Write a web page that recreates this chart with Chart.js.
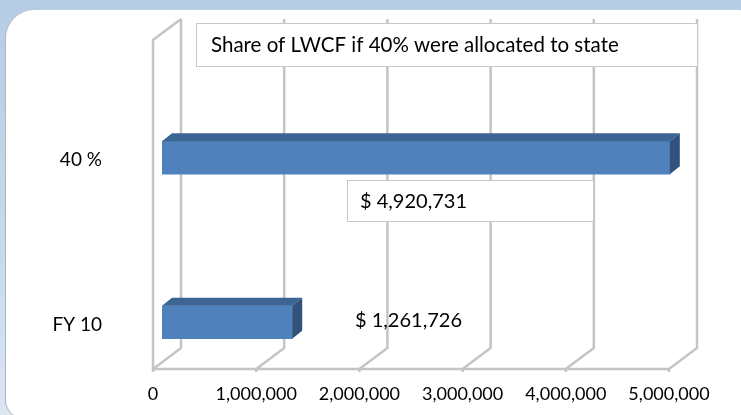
<!DOCTYPE html>
<html>
<head>
<meta charset="utf-8">
<script src="https://cdn.jsdelivr.net/npm/chart.js@4.4.1/dist/chart.umd.min.js"></script>
<style>
  html, body { margin: 0; padding: 0; }
  body {
    width: 741px; height: 415px; overflow: hidden; position: relative;
    background: linear-gradient(180deg, #b6cde5 0%, #c9d9ea 60%, #dbe6f1 100%);
  }
  #panel {
    position: absolute; left: 6px; top: 10px; width: 760px; height: 408px;
    background: #fff;
    border-radius: 28px 28px 0 18px;
    box-shadow: -1px 0 0 #a9b6c4;
  }
  #graphCanvas { position: absolute; left: 0; top: 0; }
</style>
</head>
<body>
<div id="panel"></div>
<canvas id="graphCanvas" width="741" height="415"></canvas>
<script>
// chart data
var categories = ['40 %', 'FY 10'];
var amounts = [4920731, 1261726];
var tickValues = [0, 1000000, 2000000, 3000000, 4000000, 5000000];
var titleText = 'Share of LWCF if 40% were allocated to state';

// depth of the back wall and of the bars (pixels)
var WALL_DX = 28, WALL_DY = -21;
var BAR_DX = 10, BAR_DY = -8;
var BAR_SHIFT_X = 9, BAR_SHIFT_Y = 35.5;

// where the text boxes sit
var labelBoxes = [
    { x: 347, y: 180, w: 246, h: 41, tx: 360, border: true },
    { x: 350, y: 300, w: 120, h: 40, tx: 355, border: false }
];

function money(v) {
    return '$ ' + v.toLocaleString('en-US');
}

Chart.defaults.font.family = 'Lato';
Chart.defaults.color = '#000';

var box3d = {
    id: 'box3d',
    beforeDatasetsDraw: function (chart) {
        var ctx = chart.ctx;
        var a = chart.chartArea;
        var xs = chart.scales.x;
        var x0 = xs.getPixelForValue(tickValues[0]);
        var xEnd = xs.getPixelForValue(tickValues[tickValues.length - 1]);

        ctx.save();
        ctx.strokeStyle = '#c4c4c4';
        ctx.lineWidth = 2.5;
        ctx.lineJoin = 'round';

        // left wall
        ctx.beginPath();
        ctx.moveTo(x0, a.bottom);
        ctx.lineTo(x0, a.top);
        ctx.lineTo(x0 + WALL_DX, a.top + WALL_DY);
        ctx.stroke();

        // floor front edge
        ctx.beginPath();
        ctx.moveTo(x0, a.bottom);
        ctx.lineTo(xEnd, a.bottom);
        ctx.stroke();

        // grid lines on floor and back wall
        for (var i in tickValues) {
            var px = xs.getPixelForValue(tickValues[i]);
            ctx.beginPath();
            ctx.moveTo(px, a.bottom + 3);
            ctx.lineTo(px, a.bottom);
            ctx.lineTo(px + WALL_DX, a.bottom + WALL_DY);
            ctx.lineTo(px + WALL_DX, a.top + WALL_DY);
            ctx.stroke();
        }
        ctx.restore();

        // bars sit inside the box
        ctx.save();
        ctx.translate(BAR_SHIFT_X, BAR_SHIFT_Y);
    },
    afterDatasetsDraw: function (chart) {
        var ctx = chart.ctx;
        var meta = chart.getDatasetMeta(0);
        meta.data.forEach(function (bar) {
            var left = bar.base, right = bar.x;
            var top = bar.y - bar.height / 2, bottom = bar.y + bar.height / 2;

            ctx.fillStyle = '#3d6594';
            ctx.beginPath();
            ctx.moveTo(left, top);
            ctx.lineTo(left + BAR_DX, top + BAR_DY);
            ctx.lineTo(right + BAR_DX, top + BAR_DY);
            ctx.lineTo(right, top);
            ctx.closePath();
            ctx.fill();

            ctx.fillStyle = '#30527d';
            ctx.beginPath();
            ctx.moveTo(right, top);
            ctx.lineTo(right + BAR_DX, top + BAR_DY);
            ctx.lineTo(right + BAR_DX, bottom + BAR_DY);
            ctx.lineTo(right, bottom);
            ctx.closePath();
            ctx.fill();
        });
        ctx.restore();
    },
    afterDraw: function (chart) {
        var ctx = chart.ctx;
        ctx.save();
        ctx.textBaseline = 'middle';

        // title box
        ctx.fillStyle = '#fff';
        ctx.fillRect(196, 23, 501, 43);
        ctx.strokeStyle = '#c8c8c8';
        ctx.lineWidth = 1;
        ctx.strokeRect(196.5, 23.5, 501, 43);
        ctx.fillStyle = '#000';
        ctx.font = '20.5px Lato';
        ctx.fillText(titleText, 211, 45);

        // value labels
        ctx.font = '20px Lato';
        for (var i in amounts) {
            var b = labelBoxes[i];
            if (b.border) {
                ctx.fillStyle = '#fff';
                ctx.fillRect(b.x, b.y, b.w, b.h);
                ctx.strokeStyle = '#c8c8c8';
                ctx.strokeRect(b.x + 0.5, b.y + 0.5, b.w, b.h);
            }
            ctx.fillStyle = '#000';
            ctx.fillText(money(amounts[i]), b.tx, b.y + b.h / 2 + 1);
        }
        ctx.restore();
    }
};

var graphTarget = document.getElementById('graphCanvas');

var barGraph = new Chart(graphTarget, {
    type: 'bar',
    data: {
        labels: categories,
        datasets: [
            {
                label: 'Share',
                backgroundColor: '#4f81bd',
                borderWidth: 0,
                barThickness: 33,
                data: amounts
            }
        ]
    },
    options: {
        indexAxis: 'y',
        responsive: false,
        animation: false,
        layout: { padding: { top: 40, right: 72, left: 0, bottom: 0 } },
        plugins: {
            legend: { display: false },
            tooltip: { enabled: false }
        },
        scales: {
            x: {
                type: 'linear',
                min: tickValues[0],
                max: tickValues[tickValues.length - 1],
                afterBuildTicks: function (scale) {
                    scale.ticks = tickValues.map(function (v) { return { value: v }; });
                },
                afterFit: function (scale) {
                    scale.height = 46;
                    scale.paddingLeft = 0;
                    scale.paddingRight = 0;
                },
                grid: { display: false, drawTicks: false },
                border: { display: false },
                ticks: {
                    padding: 14,
                    maxRotation: 0,
                    font: { size: 18 },
                    callback: function (v) { return v.toLocaleString('en-US'); }
                }
            },
            y: {
                afterFit: function (scale) {
                    scale.width = 153;
                    scale.paddingTop = 0;
                    scale.paddingBottom = 0;
                },
                grid: { display: false, drawTicks: false },
                border: { display: false },
                ticks: {
                    padding: 51,
                    labelOffset: 38,
                    font: { size: 19 }
                }
            }
        }
    },
    plugins: [box3d]
});
</script>
</body>
</html>
